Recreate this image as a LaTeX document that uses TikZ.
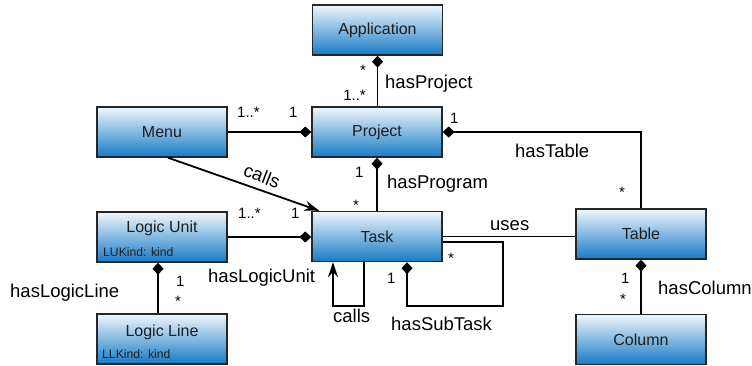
\documentclass[tikz,border=0pt]{standalone}
\usepackage{fontspec}
\setmainfont{Liberation Sans}
\usetikzlibrary{arrows.meta,calc}
\definecolor{boxtop}{RGB}{240,247,252}
\definecolor{boxbot}{RGB}{22,122,198}
\definecolor{boxtxt}{RGB}{30,30,30}
\begin{document}
\begin{tikzpicture}[x=1pt,y=-1pt,
  cls/.style={draw=black!85, line width=1.4pt, top color=boxtop, bottom color=boxbot,
    minimum width=130pt, minimum height=50pt, inner sep=0pt, text=boxtxt,
    font=\fontsize{16}{18}\selectfont},
  ttl/.style={inner sep=0pt, text=boxtxt, font=\fontsize{16}{18}\selectfont},
  attr/.style={inner sep=0pt, anchor=base west, text=boxtxt, font=\fontsize{12.2}{14}\selectfont},
  conn/.style={line width=1.8pt, black},
  comp/.style={conn, {Diamond[length=12pt,width=11pt]}-},
  compe/.style={conn, -{Diamond[length=12pt,width=11pt]}},
  callarr/.style={conn, -{Stealth[length=15pt,width=10pt,inset=5pt]}},
  mult/.style={inner sep=0pt, anchor=base, font=\fontsize{15}{17}\selectfont},
  multw/.style={mult, anchor=base west},
  role/.style={inner sep=0pt, anchor=base west, font=\fontsize{18.5}{20}\selectfont}
]
\useasboundingbox (0,0) rectangle (752,365);

% classes
\node[cls] (app) at (377.5,30) {Application};
\node[cls] (proj) at (377,132) {Project};
\node[cls] (menu) at (162,132) {Menu};
\node[cls] (lu) at (162,237) {};
\node[cls] (task) at (377,236.5) {Task};
\node[cls] (ll) at (162,339) {};
\node[cls] (table) at (641,234) {Table};
\node[cls] (col) at (641,339.5) {Column};

\node[ttl] (lut) at (162,228) {Logic Unit};
\node[attr] (lua) at (103,256) {LUKind: kind};
\node[ttl] (llt) at (162,332) {Logic Line};
\node[attr] (lla) at (102,358) {LLKind: kind};

% connectors
\draw[comp] (app.south) -- (app.south |- proj.north);
\draw[compe] (menu.east) -- (proj.west);
\draw[comp] (proj.east) -| (table.north);
\draw[comp] (proj.south) -- (task.north);
\draw[callarr] ($(menu.south)+(6,0)$) -- ($(task.north west)+(8,0)$);
\draw[compe] (lu.east) -- (lu.east -| task.west);
\draw[comp] ($(lu.south)+(-4,0)$) -- ($(ll.north)+(-4,0)$);

\coordinate (c1) at ($(task.south)+(-13,44)$);
\coordinate (c2) at ($(task.south)+(-44,44)$);
\draw[callarr] ($(task.south)+(-13,0)$) -- (c1) -- (c2) -- ($(task.south)+(-44,0)$);

\coordinate (s1) at (503,242);
\coordinate (s2) at (503,306);
\coordinate (s3) at (407,306);
\draw[comp] (s3 |- task.south) -- (s3) -- (s2) -- (s1) -- (task.east |- s1);

\draw[conn] (task.east) -- (task.east -| table.west);
\draw[comp] (table.south) -- (col.north);

% multiplicities
\node[mult] (m1) at (363,75.5) {*};
\node[mult, anchor=base east] (m2) at (366,100) {1..*};
\node[multw] (m3) at (237,117) {1..*};
\node[multw] (m4) at (289,117) {1};
\node[multw] (m5) at (450,123) {1};
\node[mult] (m6) at (622,197) {*};
\node[multw] (m7) at (355,177) {1};
\node[mult] (m8) at (356,210.5) {*};
\node[multw] (m9) at (238,218) {1..*};
\node[multw] (m10) at (291,218) {1};
\node[multw] (m11) at (176,286) {1};
\node[mult] (m12) at (178,306.5) {*};
\node[mult] (m13) at (451,263.5) {*};
\node[multw] (m14) at (387,283) {1};
\node[multw] (m15) at (621,283) {1};
\node[mult] (m16) at (623,304.5) {*};

% role names
\node[role] (r1) at (385,88) {hasProject};
\node[role] (r2) at (515,157) {hasTable};
\node[role] (r3) at (387,188) {hasProgram};
\node[role] (r4) at (208,282) {hasLogicUnit};
\node[role] (r5) at (10,297) {hasLogicLine};
\node[role] (r6) at (333,322) {calls};
\node[role] (r7) at (391,330) {hasSubTask};
\node[role] (r8) at (490,230) {uses};
\node[role] (r9) at (658,294) {hasColumn};
\node[inner sep=0pt, font=\fontsize{18.5}{20}\selectfont, rotate=-21] (r10) at (262,176) {calls};
\end{tikzpicture}
\end{document}
